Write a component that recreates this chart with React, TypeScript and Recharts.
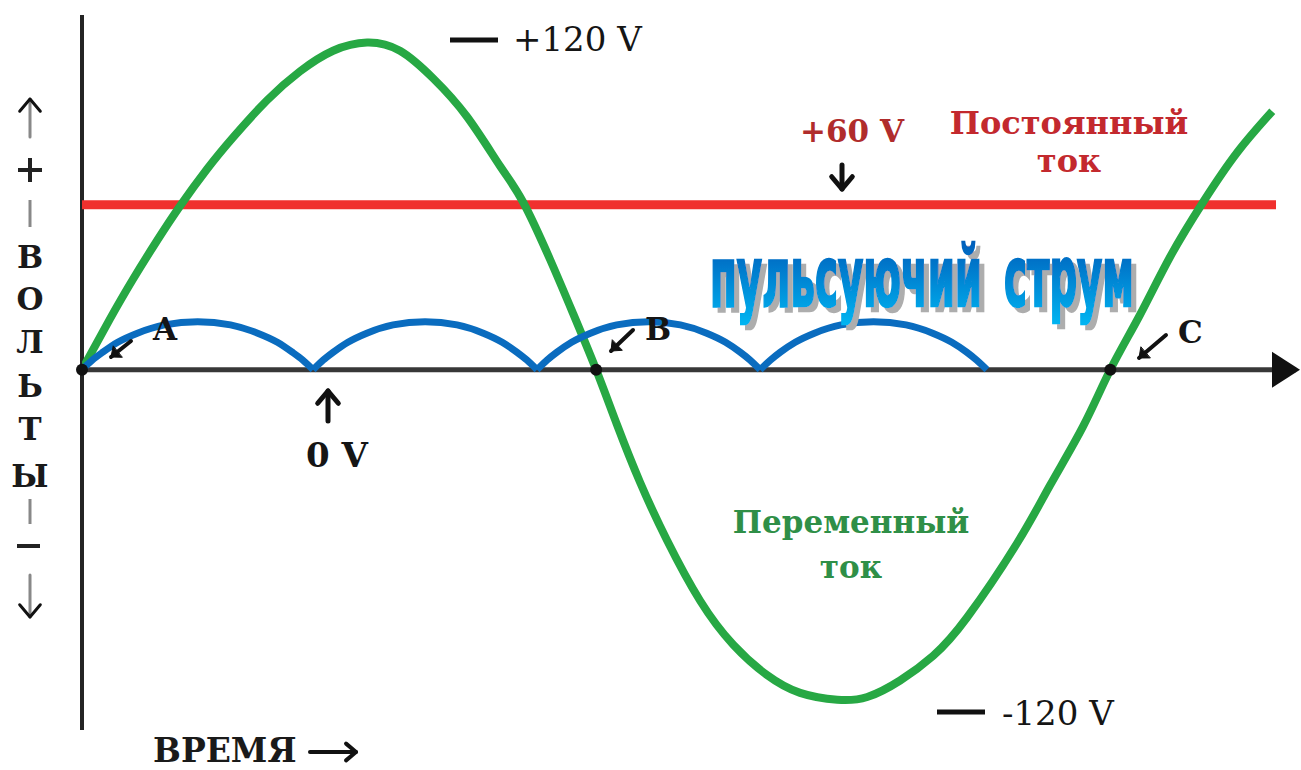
import React from "react";
import { LineChart, Line, XAxis, YAxis, ReferenceLine, ReferenceDot } from "recharts";

// time axis in degrees of phase, values in volts
const X_MAX = 425;

const acTime = [
  0, 9.8, 17.9, 26.3, 34.3, 43.8, 52.9, 64.8, 76.3, 87.9, 99.8, 111.3, 122.9, 134.8,
  146.4, 154.4, 163.9, 171.9, 180, 187.3, 195.4, 204.8, 216.4, 228, 239.8, 251.4,
  264.4, 274.9, 286.4, 298, 309.9, 327.4, 338.9, 350.5, 360, 370.4, 380.9,
  392.5, 404.4, 416.7,
];
const acVolts = [
  0, 18.5, 33, 47, 59.5, 73, 84.5, 98, 108.5, 116, 119, 116, 106, 92,
  74, 61, 40, 20.5, 0, -20, -41, -62, -84, -100, -111, -117.5,
  -120, -119, -113, -104, -90, -63, -42, -20.5, 0, 20, 41,
  61, 79, 94,
];

const dcTime = [0, 418];
const dcVolts = [60, 60];

// pulsating current: four arches between the cusps
const pulseTimes = [
  [0, 3.6, 7.3, 12.5, 19.4, 28.9, 40.5, 52.0, 61.5, 68.4, 73.6, 77.3, 80.9],
  [80.9, 84.4, 88.0, 93.1, 99.7, 108.9, 120.1, 131.3, 140.5, 147.1, 152.2, 155.8, 159.3],
  [159.3, 162.8, 166.3, 171.4, 178.0, 187.2, 198.4, 209.5, 218.7, 225.3, 230.4, 233.9, 237.4],
  [237.4, 241.0, 244.5, 249.7, 256.4, 265.7, 277.1, 288.5, 297.8, 304.5, 309.7, 313.2, 316.8],
];
const pulseVolts = [0, 3.5, 6.4, 10, 13.3, 16.3, 17.5, 16.3, 13.3, 10, 6.4, 3.5, 0];

const markedPoints = [
  { t: 0, name: "A" },
  { t: 180, name: "B" },
  { t: 360, name: "C" },
];

const acData = acTime.map((t, i) => ({ t, v: acVolts[i] }));
const dcData = dcTime.map((t, i) => ({ t, v: dcVolts[i] }));
const pulseData = pulseTimes.map((times) => times.map((t, i) => ({ t, v: pulseVolts[i] })));

const SERIF = "'DejaVu Serif', 'Liberation Serif', serif";
const TITLE_SQUEEZE = 0.55;

const AxisHead = (props: any) => {
  const { cx, cy } = props;
  return <polygon points={`${cx + 4},${cy} ${cx - 24},${cy - 18} ${cx - 24},${cy + 18}`} fill="#111" />;
};

const Arrow = ({ x1, y1, x2, y2, head = 12, w = 4, color = "#111", tail, filled }: any) => {
  const a = Math.atan2(y2 - y1, x2 - x1);
  const p1 = [x2 - head * Math.cos(a - 0.7), y2 - head * Math.sin(a - 0.7)];
  const p2 = [x2 - head * Math.cos(a + 0.7), y2 - head * Math.sin(a + 0.7)];
  return (
    <g strokeLinecap="round" strokeLinejoin="round">
      <line x1={x1} y1={y1} x2={x2} y2={y2} stroke={tail || color} strokeWidth={w} />
      {filled ? (
        <polygon points={`${p1} ${x2},${y2} ${p2}`} fill={color} stroke={color} strokeWidth={1} />
      ) : (
        <polyline points={`${p1} ${x2},${y2} ${p2}`} fill="none" stroke={color} strokeWidth={w} />
      )}
    </g>
  );
};

const Annotations = () => (
  <svg width={1301} height={770} style={{ position: "absolute", left: 0, top: 0, pointerEvents: "none" }}>
    <defs>
      <linearGradient id="pulseGrad" x1="0" y1="0" x2="0" y2="1">
        <stop offset="0" stopColor="#0050b2" />
        <stop offset="1" stopColor="#00b6f2" />
      </linearGradient>
      <filter id="titleShadow" x="-5%" y="-20%" width="115%" height="160%">
        <feOffset in="SourceAlpha" dx="5" dy="5" result="off" />
        <feFlood floodColor="#adadad" />
        <feComposite in2="off" operator="in" result="shadow" />
        <feMerge>
          <feMergeNode in="shadow" />
          <feMergeNode in="SourceGraphic" />
        </feMerge>
      </filter>
    </defs>

    {/* vertical axis caption */}
    <g fontFamily={SERIF} fontWeight="bold" fontSize={31} fill="#1a1a1a" textAnchor="middle">
      {["В", "О", "Л", "Ь", "Т", "Ы"].map((c, i) => (
        <text key={c} x={30} y={[268, 310, 353, 397, 440, 487][i]}>{c}</text>
      ))}
    </g>
    <Arrow x1={30} y1={137} x2={30} y2={99} tail="#888" w={3} head={16} />
    <line x1={18} y1={170} x2={42} y2={170} stroke="#222" strokeWidth={4} />
    <line x1={30} y1={158} x2={30} y2={182} stroke="#222" strokeWidth={4} />
    <line x1={30} y1={200} x2={30} y2={227} stroke="#888" strokeWidth={3} />
    <line x1={30} y1={499} x2={30} y2={524} stroke="#888" strokeWidth={3} />
    <line x1={17} y1={546} x2={40} y2={546} stroke="#222" strokeWidth={4} />
    <Arrow x1={30} y1={575} x2={30} y2={617} tail="#888" w={3} head={16} />

    {/* horizontal axis caption */}
    <text x={153} y={762} fontFamily={SERIF} fontWeight="bold" fontSize={33} fill="#1a1a1a">ВРЕМЯ</text>
    <Arrow x1={310} y1={752} x2={356} y2={752} head={13} w={4} />

    {/* peak values */}
    <line x1={450} y1={40} x2={498} y2={40} stroke="#111" strokeWidth={5} />
    <text x={513} y={51} fontFamily={SERIF} fontSize={34} fill="#151515">+120 V</text>
    <line x1={937} y1={712} x2={985} y2={712} stroke="#111" strokeWidth={5} />
    <text x={1002} y={725} fontFamily={SERIF} fontSize={34} fill="#151515">-120 V</text>

    {/* direct current */}
    <text x={800} y={142} fontFamily={SERIF} fontWeight="bold" fontSize={31} fill="#b02c2c">+60 V</text>
    <Arrow x1={842} y1={165} x2={842} y2={189} head={16} w={5} />
    <g fontFamily={SERIF} fontWeight="bold" fontSize={32} fill="#c3292e" textAnchor="middle">
      <text x={1069} y={134}>Постоянный</text>
      <text x={1069} y={172}>ток</text>
    </g>

    {/* alternating current */}
    <g fontFamily={SERIF} fontWeight="bold" fontSize={31} fill="#2f8f47" textAnchor="middle">
      <text x={851} y={533}>Переменный</text>
      <text x={851} y={578}>ток</text>
    </g>

    {/* zero */}
    <Arrow x1={328} y1={421} x2={328} y2={391} head={16} w={5} />
    <text x={306} y={467} fontFamily={SERIF} fontWeight="bold" fontSize={34} fill="#151515">0 V</text>

    {/* points */}
    <g fontFamily={SERIF} fontWeight="bold" fontSize={31} fill="#151515">
      <text x={153} y={340}>{markedPoints[0].name}</text>
      <text x={645} y={340}>{markedPoints[1].name}</text>
      <text x={1178} y={343}>{markedPoints[2].name}</text>
    </g>
    <Arrow x1={131} y1={341} x2={111} y2={357} head={11} w={4} filled />
    <Arrow x1={633} y1={330} x2={611} y2={351} head={11} w={4} filled />
    <Arrow x1={1166} y1={335} x2={1139} y2={358} head={11} w={4} filled />

    {/* pulsating current title */}
    <g
      fontFamily="'DejaVu Sans Condensed', 'DejaVu Sans', sans-serif"
      fontWeight="bold"
      fontSize={84}
      fill="url(#pulseGrad)"
      stroke="url(#pulseGrad)"
      strokeWidth={2.5}
      filter="url(#titleShadow)"
    >
      <text
        transform={`translate(710 306) scale(${TITLE_SQUEEZE} 1)`}
        textLength={272 / TITLE_SQUEEZE}
        lengthAdjust="spacingAndGlyphs"
      >
        пульсуючий
      </text>
      <text
        transform={`translate(1004 306) scale(${TITLE_SQUEEZE} 1)`}
        textLength={130 / TITLE_SQUEEZE}
        lengthAdjust="spacingAndGlyphs"
      >
        струм
      </text>
    </g>
  </svg>
);

export default function App() {
  return (
    <div style={{ position: "absolute", left: 0, top: 0, width: 1301, height: 770, background: "#fff", overflow: "hidden" }}>
      <LineChart width={1301} height={770} margin={{ top: 15, right: 5, bottom: 40, left: 82 }}>
        <XAxis type="number" dataKey="t" domain={[0, X_MAX]} allowDataOverflow hide />
        <YAxis type="number" domain={[-131, 129]} allowDataOverflow hide />
        <ReferenceLine x={0} stroke="#242424" strokeWidth={4} />
        <ReferenceLine y={0} stroke="#383838" strokeWidth={5} />
        <ReferenceDot x={X_MAX} y={0} r={1} shape={AxisHead} />
        <Line data={dcData} dataKey="v" type="linear" stroke="#f0302e" strokeWidth={9} dot={false} activeDot={false} isAnimationActive={false} />
        <Line data={acData} dataKey="v" type="natural" stroke="#27a844" strokeWidth={8} dot={false} activeDot={false} isAnimationActive={false} />
        {pulseData.map((d, i) => (
          <Line key={i} data={d} dataKey="v" type="monotone" stroke="#0a6cbf" strokeWidth={7} dot={false} activeDot={false} isAnimationActive={false} />
        ))}
        {markedPoints.map((p) => (
          <ReferenceDot key={p.name} x={p.t} y={0} r={6} fill="#111" stroke="none" />
        ))}
      </LineChart>
      <Annotations />
    </div>
  );
}
